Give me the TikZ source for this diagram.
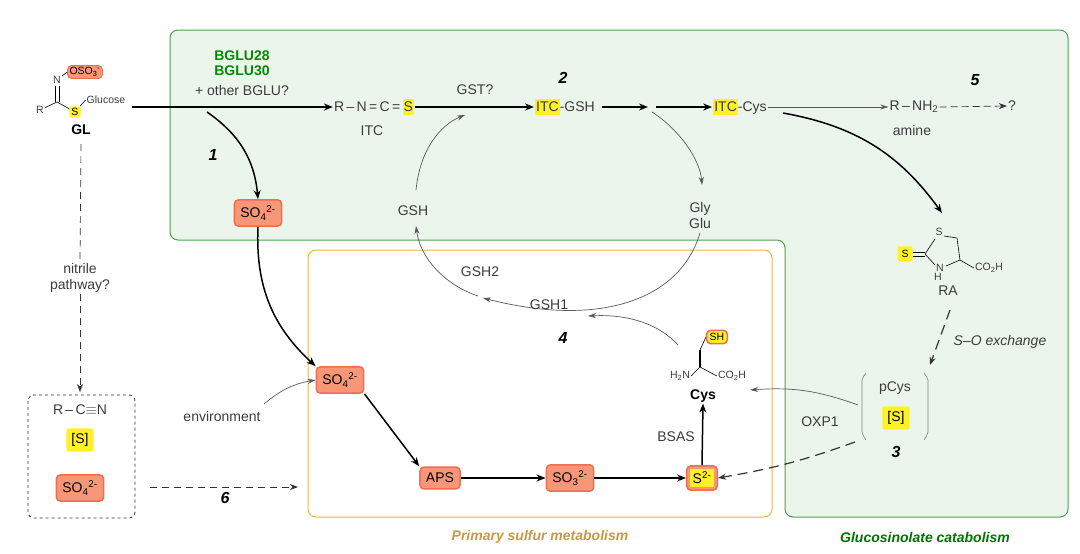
\documentclass[tikz,border=0pt]{standalone}
\usepackage{fontspec}
\setmainfont{Liberation Sans}
\usetikzlibrary{arrows.meta,calc}
\definecolor{gfill}{RGB}{236,245,236}
\definecolor{gline}{RGB}{80,160,80}
\definecolor{oline}{RGB}{235,180,80}
\definecolor{ored}{RGB}{240,110,80}
\definecolor{ofill}{RGB}{248,150,120}
\definecolor{yel}{RGB}{255,240,40}
\definecolor{txt}{RGB}{60,60,60}
\newcommand{\sox}[2]{SO\textsubscript{#1}\textsuperscript{#2}}
\begin{document}
\begin{tikzpicture}[x=1pt,y=-1pt,
 every node/.style={font=\fontsize{14}{16}\selectfont,text=txt,inner sep=1pt},
 tiny/.style={font=\fontsize{10.5}{12}\selectfont},
 orb/.style={fill=ofill,draw=ored,line width=1.5pt,rounded corners=4pt,inner xsep=6pt,inner ysep=6pt,text=black},
 ylb/.style={fill=yel,rounded corners=2pt,inner sep=2pt,text=black},
 thick arr/.style={-{Stealth[length=9pt,width=7pt]},line width=1.5pt,black},
 thin arr/.style={-{Stealth[length=8pt,width=5pt]},line width=0.7pt,gray!70!black},
 dash arr/.style={-{Stealth[length=8pt,width=6pt]},line width=1.2pt,dash pattern=on 10pt off 6pt,gray!40!black},
 num/.style={font=\fontsize{16}{18}\selectfont\bfseries\itshape,text=black},
 bond/.style={line width=0.6pt,black}]
\useasboundingbox (0,0) rectangle (1080,554);
% regions
\draw[gline,fill=gfill,line width=1pt,rounded corners=8pt] (170,30)--(1068,30)--(1068,517)--(785,517)--(785,240)--(170,240)--cycle;
\draw[oline,fill=white,line width=1pt,rounded corners=8pt] (308,250) rectangle (772,517);
\node[font=\fontsize{14}{16}\selectfont\bfseries\itshape,text=oline!85!black] at (540,537) {Primary sulfur metabolism};
\node[font=\fontsize{14}{16}\selectfont\bfseries\itshape,text=green!45!black] at (925,537) {Glucosinolate catabolism};
% GL molecule
\node[orb,tiny,inner sep=2pt,line width=0.8pt] (oso) at (85,72) {OSO\textsubscript{3}\textsuperscript{-}};
\node[tiny] (glN) at (57,80) {N};
\node[tiny] (glR) at (40,110) {R};
\coordinate (glC) at (57,102);
\node[ylb,tiny] (glS) at (75,112) {S};
\node[tiny] (glc) at (106,100) {Glucose};
\draw[bond] (glR)--(glC)--(glS)--(glc.west);
\draw[bond] (55,86)--(55,102) (59,86)--(59,102);
\draw[bond] (glN)--(oso.west);
\node[font=\fontsize{14}{16}\selectfont\bfseries,text=black] (GL) at (81,130) {GL};
\coordinate (glout) at (132,107);
% BGLU
\node[font=\fontsize{14}{15}\selectfont\bfseries,text=green!55!black,align=center] at (242,63) {BGLU28\\BGLU30};
\node (oth) at (242,90) {+ other BGLU?};
\node (ITC) at (374,107) {R\,--\,N\,=\,C\,=\,\colorbox{yel}{\kern-2pt S\kern-2pt}};
\node at (372,131) {ITC};
\draw[thick arr] (glout)--(ITC.west);
\node[num] at (213,155) {1};
\node[orb] (so4a) at (258,213) {\sox{4}{2-}};
\draw[thick arr] (207,112) to[bend left=25] (so4a.north);
\node at (475,90) {GST?};
\node (GSH) at (565,107) {\colorbox{yel}{\kern-2pt ITC\kern-2pt}-GSH};
\draw[thick arr] (ITC.east)--(GSH.west);
\node[num] at (563,78) {2};
\coordinate (m1) at (648,107);
\draw[thick arr] (GSH.east)++(6,0)--(m1);
\node (CYSi) at (740,107) {\colorbox{yel}{\kern-2pt ITC\kern-2pt}-Cys};
\draw[thick arr] (656,107)--(CYSi.west);
\node (amine) at (914,107) {R\,--\,NH\textsubscript{2}};
\node at (912,130) {amine};
\draw[thin arr] (CYSi.east)--(amine.west);
\node[num] at (975,80) {5};
\node (q) at (1012,106) {?};
\draw[dash arr,line width=0.7pt,dash pattern=on 7pt off 4pt] (amine.east)--(q.west);
% RA
\node[ylb,tiny,inner sep=4pt] (raS) at (905,254) {S};
\coordinate (r1) at (925,254); \coordinate (r3) at (957,238);
\coordinate (r4) at (960,260);
\node[tiny] at (939,232) {S};
\node[tiny] at (940,268) {N}; \node[tiny] at (938,277) {H};
\draw[bond] (r1)--(935,239) (944,236)--(r3)--(r4)--(946,266) (935,265)--(r1);
\draw[bond] ($(raS.east)+(0,-2)$)--($(r1)+(0,-2)$) ($(raS.east)+(0,2)$)--($(r1)+(0,2)$);
\node[tiny] (co2) at (989,268) {CO\textsubscript{2}H};
\draw[bond] (r4)--(co2.west);
\node (RA) at (948,291) {RA};
\draw[thick arr] (783,113) to[bend left=22] (942,213);
% pCys
\draw[bond,gray] (866,373) to[bend right=10] (862,380)--(862,432) to[bend right=10] (866,440);
\draw[bond,gray] (924,373) to[bend left=10] (928,380)--(928,432) to[bend left=10] (924,440);
\node (pcys) at (895,388) {pCys};
\node[ylb,inner sep=5pt] (sbr) at (896,418) {[S]};
\node[num] at (896,452) {3};
\draw[dash arr] (950,310)--(930,365);
\node[font=\fontsize{14}{16}\selectfont\itshape] at (1000,342) {S--O exchange};
% Cys
\node[orb,tiny,fill=yel,inner sep=3pt] (sh) at (717,337) {SH};
\coordinate (ca) at (700,367);
\node[tiny] (h2n) at (680,376) {H\textsubscript{2}N};
\node[tiny] (co2b) at (732,376) {CO\textsubscript{2}H};
\draw[bond] (h2n.east)--(ca)--(co2b.west);
\draw[line width=2pt] (ca)--(700,350);
\draw[bond] (700,350)--(sh.west);
\node[font=\fontsize{14}{16}\selectfont\bfseries,text=black] (Cys) at (703,396) {Cys};
\node at (820,422) {OXP1};
\draw[thin arr] (858,405) to[bend right=12] (750,390);
% primary
\node[orb] (so4b) at (340,380) {\sox{4}{2-}};
\node[orb] (APS) at (440,478) {APS};
\node[orb] (SO3) at (570,478) {\sox{3}{2-}};
\node[orb,inner sep=3pt] (S2) at (702,478) {\colorbox{yel}{S\textsuperscript{2-}}};
\draw[thick arr] (so4b.south east)--(APS.north west);
\draw[thick arr] (APS.east)--(SO3.west);
\draw[thick arr] (SO3.east)--(S2.west);
\draw[thick arr] (S2.north)--(Cys.south);
\node at (676,437) {BSAS};
\draw[dash arr] (855,442) to[bend left=5] (S2.east);
\draw[thick arr] (so4a.south) to[bend right=25] (so4b.north west);
\node (env) at (222,416) {environment};
\draw[thin arr] (264,404) to[bend left=15] (so4b.west);
% GSH cycle
\node (gshn) at (413,211) {GSH};
\node[align=center,inner sep=0pt] (gly) at (700,215) {Gly\\Glu};
\node[num] at (563,338) {4};
\coordinate (g1) at (465,115);
\coordinate (g2) at (702,185);
\coordinate (g3) at (483,298);
\coordinate (g4) at (588,316);
\draw[thin arr] (416,190) .. controls (420,150) and (440,125) .. (g1);
\draw[thin arr] (652,112) .. controls (680,130) and (700,160) .. (g2);
\draw[thin arr] (700,233) .. controls (680,300) and (600,328) .. (g3);
\draw[thin arr] (478,296) .. controls (445,285) and (420,258) .. (416,226);
\draw[thin arr] (678,345) .. controls (660,325) and (630,314) .. (g4);
\node at (480,272) {GSH2};
\node at (549,305) {GSH1};
% nitrile
\node[align=center] (nit) at (80,278) {nitrile\\pathway?};
\draw[gray!40!black,line width=0.7pt,dash pattern=on 7pt off 5pt] ($(GL.south)+(0,8)$)--(nit.north);
\coordinate (nb) at (80,392);
\draw[dash arr,line width=0.7pt,dash pattern=on 7pt off 5pt] (nit.south)--(nb);
\draw[gray!40!black,dashed,line width=0.8pt,rounded corners=6pt] (28,395) rectangle (135,518);
\node at (80,410) {R\,--\,C$\equiv$N};
\node[ylb,inner sep=5pt] at (80,440) {[S]};
\node[orb] at (80,488) {\sox{4}{2-}};
\draw[dash arr,line width=0.8pt,dash pattern=on 7pt off 5pt] (150,487)--(298,487);
\node[num] at (225,498) {6};
\end{tikzpicture}
\end{document}
